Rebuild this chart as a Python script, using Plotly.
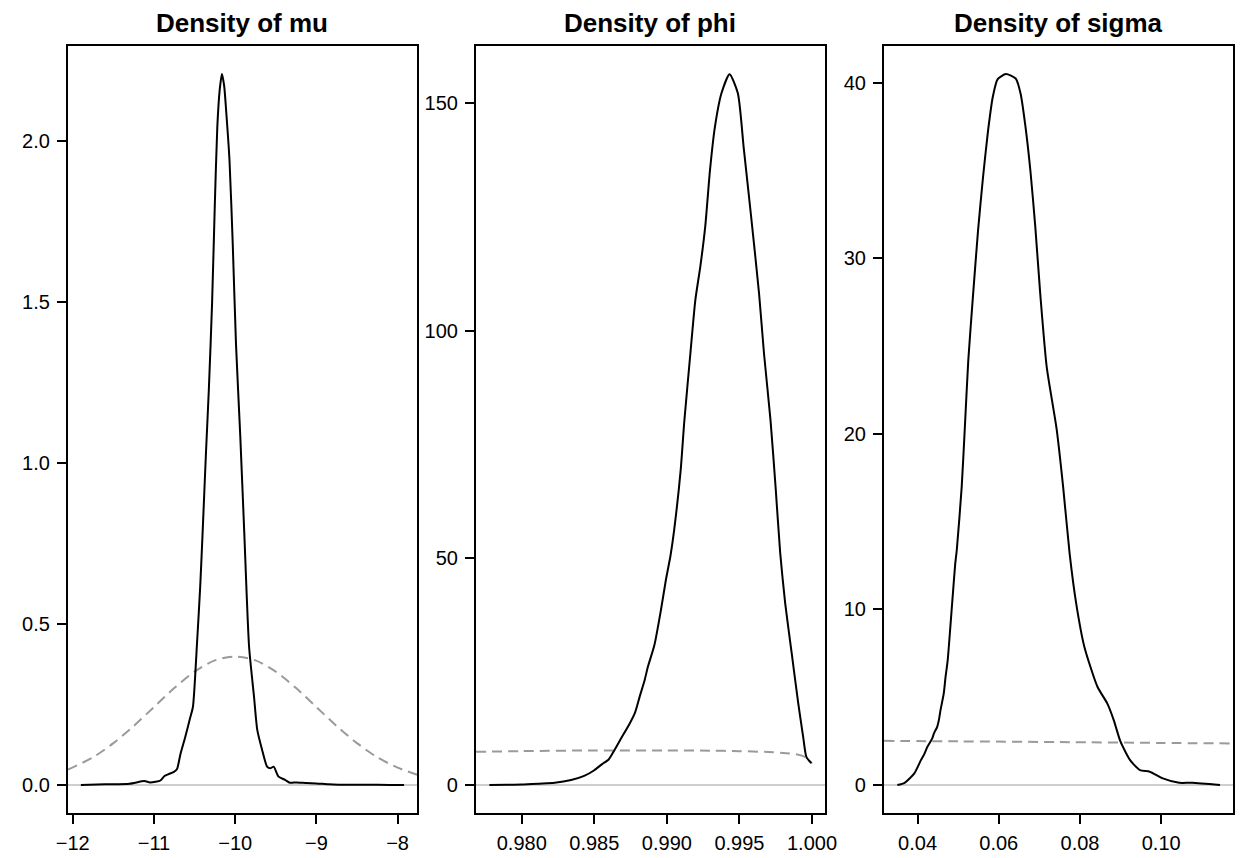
import plotly.graph_objects as go

# ---------------- data ----------------
mu_x = [-11.90, -11.6, -11.3, -11.12, -11.05, -10.98, -10.92, -10.87, -10.816, -10.76,
        -10.716, -10.675, -10.614, -10.553, -10.52, -10.47, -10.43, -10.40, -10.36,
        -10.324, -10.284, -10.251, -10.22, -10.19, -10.163, -10.135, -10.11, -10.07,
        -10.03, -9.99, -9.937, -9.889, -9.829, -9.768, -9.728, -9.668, -9.607, -9.567,
        -9.526, -9.466, -9.386, -9.326, -9.245, -9.12, -9.0, -8.85, -8.72, -8.4, -8.1, -7.92]
mu_y = [0.0, 0.002, 0.004, 0.012, 0.008, 0.010, 0.014, 0.028, 0.034, 0.040,
        0.050, 0.095, 0.150, 0.210, 0.243, 0.44, 0.62, 0.79, 1.03,
        1.23, 1.50, 1.80, 2.044, 2.16, 2.208, 2.17, 2.09, 1.94,
        1.68, 1.37, 1.082, 0.79, 0.43, 0.274, 0.171, 0.109, 0.057, 0.052,
        0.057, 0.026, 0.016, 0.007, 0.008, 0.006, 0.005, 0.002, 0.001, 0.001, 0.0, 0.0]

mu_prior_x = [-12.06, -11.75, -11.5, -11.25, -11.0, -10.75, -10.5, -10.25, -10.0,
              -9.75, -9.5, -9.25, -9.0, -8.75, -8.5, -8.25, -8.0, -7.76]
mu_prior_y = [0.048, 0.086, 0.130, 0.183, 0.242, 0.301, 0.352, 0.387, 0.399,
              0.387, 0.352, 0.301, 0.242, 0.183, 0.130, 0.086, 0.054, 0.032]

phi_x = [0.97777, 0.9790, 0.9800, 0.9812, 0.98227, 0.9834, 0.9843, 0.98497, 0.98554,
         0.98599, 0.98632, 0.98678, 0.98745, 0.98779, 0.98813, 0.98847, 0.98869, 0.98914,
         0.98959, 0.98993, 0.99025, 0.9905, 0.99095, 0.9912, 0.99162, 0.99196, 0.9923,
         0.99264, 0.99297, 0.99331, 0.99376, 0.99432, 0.99489, 0.99530, 0.99578,
         0.99635, 0.99669, 0.99714, 0.99748, 0.99781, 0.99815, 0.9986, 0.99905,
         0.99939, 0.99961, 0.99995]
phi_y = [0.0, 0.05, 0.1, 0.3, 0.5, 1.1, 2.0, 3.2, 4.6,
         5.6, 7.3, 9.9, 13.6, 15.8, 19.5, 23.1, 26.0, 30.8,
         38.5, 45.1, 50.5, 56.1, 69.3, 80.0, 95.0, 106.7, 114.0,
         122.8, 135.3, 144.8, 152.2, 156.4, 152.2, 140.0, 125.8,
         108.2, 95.0, 80.3, 66.0, 51.0, 40.0, 29.0, 18.0,
         10.6, 6.2, 4.8]

phi_prior_x = [0.97684, 0.980, 0.985, 0.990, 0.993, 0.995, 0.997, 0.998, 0.999, 0.9995, 1.0]
phi_prior_y = [7.3, 7.45, 7.6, 7.6, 7.55, 7.45, 7.25, 7.05, 6.7, 6.2, 4.8]

sigma_x = [0.03502, 0.0368, 0.0392, 0.04082, 0.04162, 0.04242, 0.04362, 0.04403, 0.04483,
           0.04524, 0.04565, 0.04645, 0.04686, 0.04742, 0.04807, 0.0487, 0.04927, 0.04966,
           0.05087, 0.05169, 0.05249, 0.05369, 0.0549, 0.05611, 0.05732, 0.05853, 0.05973,
           0.06174, 0.06416, 0.06536, 0.06657, 0.06778, 0.06899, 0.0702, 0.07181, 0.07423,
           0.07584, 0.07744, 0.07906, 0.08107, 0.0843, 0.08671, 0.08831, 0.08993, 0.09234,
           0.09476, 0.09717, 0.1004, 0.10442, 0.10763, 0.11449]
sigma_y = [0.0, 0.13, 0.67, 1.42, 1.75, 2.18, 2.66, 2.94, 3.32,
           3.7, 4.27, 5.22, 6.1, 7.12, 9.01, 10.92, 12.6, 13.4,
           17.0, 20.6, 24.2, 28.0, 31.6, 34.6, 37.2, 39.2, 40.2,
           40.49, 40.24, 39.39, 37.5, 35.0, 31.8, 28.0, 23.8, 20.3,
           17.0, 13.2, 10.35, 7.88, 5.6, 4.65, 3.7, 2.5, 1.42,
           0.85, 0.76, 0.38, 0.13, 0.13, 0.0]

sigma_prior_x = [0.03171, 0.05, 0.075, 0.1, 0.1177]
sigma_prior_y = [2.52, 2.49, 2.45, 2.40, 2.37]

titles = ["Density of mu", "Density of phi", "Density of sigma"]
x_ranges = [[-12.06, -7.76], [0.97684, 1.0009], [0.03171, 0.1177]]
y_ranges = [[-0.087, 2.295], [-6.16, 162.6], [-1.59, 42.09]]
x_tickvals = [[-12, -11, -10, -9, -8], [0.980, 0.985, 0.990, 0.995, 1.000], [0.04, 0.06, 0.08, 0.10]]
x_ticktext = [["\u221212", "\u221211", "\u221210", "\u22129", "\u22128"],
              ["0.980", "0.985", "0.990", "0.995", "1.000"],
              ["0.04", "0.06", "0.08", "0.10"]]
y_tickvals = [[0, 0.5, 1.0, 1.5, 2.0], [0, 50, 100, 150], [0, 10, 20, 30, 40]]
y_ticktext = [["0.0", "0.5", "1.0", "1.5", "2.0"], ["0", "50", "100", "150"], ["0", "10", "20", "30", "40"]]

posteriors = [(mu_x, mu_y), (phi_x, phi_y), (sigma_x, sigma_y)]
priors = [(mu_prior_x, mu_prior_y), (phi_prior_x, phi_prior_y), (sigma_prior_x, sigma_prior_y)]

# ---------------- layout geometry ----------------
W, H = 1249, 858
box_left = [57, 473, 889]
box_w = 356
box_top, box_bottom = 46, 813

FONT = "Liberation Sans, Arial, Helvetica, sans-serif"

fig = go.Figure()
layout = dict(
    width=W, height=H,
    margin=dict(l=0, r=0, t=0, b=0),
    paper_bgcolor="white", plot_bgcolor="white",
    showlegend=False,
    font=dict(family=FONT, size=20, color="black"),
    annotations=[],
)

for i in range(3):
    sx = "" if i == 0 else str(i + 1)
    xa, ya = "x" + sx, "y" + sx
    px, py = priors[i]
    fig.add_trace(go.Scatter(x=px, y=py, mode="lines", xaxis=xa, yaxis=ya,
                             line=dict(color="#9a9a9a", width=2, dash="10px,6px", shape="spline", smoothing=0.8),
                             hoverinfo="skip"))
    dx, dy = posteriors[i]
    fig.add_trace(go.Scatter(x=dx, y=dy, mode="lines", xaxis=xa, yaxis=ya,
                             line=dict(color="black", width=2, shape="spline", smoothing=0.6)))

    x0 = box_left[i] / W
    x1 = (box_left[i] + box_w) / W
    y0 = 1 - box_bottom / H
    y1 = 1 - box_top / H
    layout["xaxis" + sx] = dict(
        domain=[x0, x1], range=x_ranges[i], anchor=ya,
        tickmode="array", tickvals=x_tickvals[i], ticktext=x_ticktext[i],
        ticks="outside", ticklen=9, tickwidth=2, tickcolor="black",
        showline=True, linecolor="black", linewidth=2, mirror=True,
        showgrid=False, zeroline=False, tickfont=dict(size=20, family=FONT, color="black"),
        ticklabelstandoff=2,
    )
    layout["yaxis" + sx] = dict(
        domain=[y0, y1], range=y_ranges[i], anchor=xa,
        tickmode="array", tickvals=y_tickvals[i], ticktext=y_ticktext[i],
        ticks="outside", ticklen=9, tickwidth=2, tickcolor="black",
        showline=True, linecolor="black", linewidth=2, mirror=True,
        showgrid=False, zeroline=True, zerolinecolor="#cfcfcf", zerolinewidth=1.5,
        tickfont=dict(size=20, family=FONT, color="black"), ticklabelstandoff=3,
    )
    layout["annotations"].append(dict(
        text="<b>" + titles[i] + "</b>", xref="paper", yref="paper",
        x=(x0 + x1) / 2, y=1 - 23 / H, xanchor="center", yanchor="middle",
        showarrow=False, font=dict(size=26, family=FONT, color="black"),
    ))

fig.update_layout(**layout)
fig.write_html("out.html")
